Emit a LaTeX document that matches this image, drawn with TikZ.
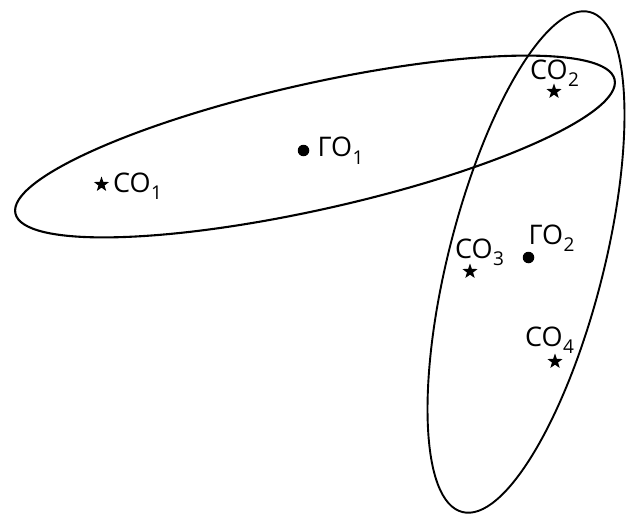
\documentclass[tikz,border=0pt]{standalone}
\usepackage{fontspec}
\setmainfont{Open Sans}
\usetikzlibrary{shapes.geometric}
\newcommand{\lbl}[2]{#1\kern0.5pt\raisebox{-7.5pt}{\fontsize{19}{19}\selectfont #2}}
\tikzset{
  oval/.style={draw=black, line width=2pt},
  starmark/.style={star, star points=5, star point ratio=2.5, fill=black, draw=none, inner sep=0pt, minimum size=16pt},
  dotmark/.style={circle, fill=black, draw=none, inner sep=0pt, minimum size=11.5pt},
  lab/.style={anchor=base west, inner sep=0pt, font=\fontsize{27}{30}\selectfont}
}
\begin{document}
\begin{tikzpicture}[x=1pt,y=-1pt]
\useasboundingbox (0,0) rectangle (626,516);
% ellipses
\draw[oval, line width=2.1pt, rotate around={12.6:(315,146.5)}] (315,146.5) ellipse [x radius=307, y radius=63];
\draw[oval, line width=1.9pt, rotate around={75.7:(526,262)}] (526,262) ellipse [x radius=258, y radius=77.5];
% markers
\node[starmark] (s1) at (101.5,184.5) {};
\node[starmark] (s2) at (554,91.5) {};
\node[starmark] (s3) at (470,271.5) {};
\node[starmark] (s4) at (555,361.5) {};
\node[dotmark] (g1) at (303.5,150.5) {};
\node[dotmark] (g2) at (528.5,257.5) {};
% labels
\node[lab] (l1) at (113,192) {\lbl{СО}{1}};
\node[lab] (l2) at (530,79.5) {\lbl{СО}{2}};
\node[lab] (l3) at (455,258) {\lbl{СО}{3}};
\node[lab] (l4) at (525,346) {\lbl{СО}{4}};
\node[lab] (m1) at (317.5,157) {\lbl{ГО}{1}};
\node[lab] (m2) at (528.5,244) {\lbl{ГО}{2}};
\end{tikzpicture}
\end{document}
